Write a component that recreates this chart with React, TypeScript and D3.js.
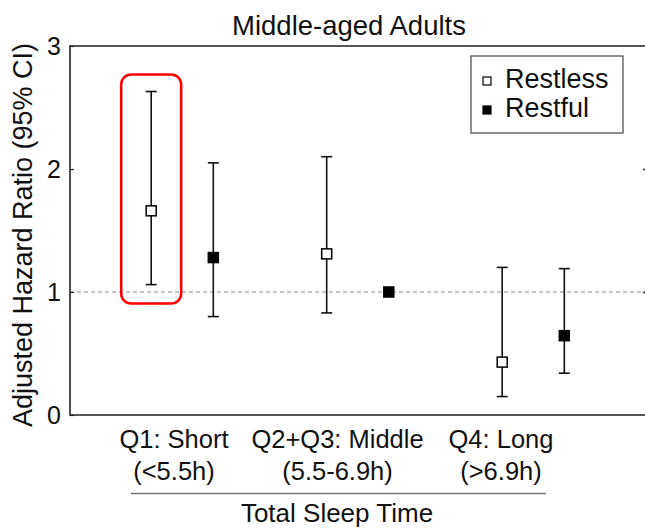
import React, { useEffect, useRef } from "react";
import * as d3 from "d3";

// values
const groups = ["Q1", "Q2+Q3", "Q4"];
const groupLines1 = ["Q1: Short", "Q2+Q3: Middle", "Q4: Long"];
const groupLines2 = ["(<5.5h)", "(5.5-6.9h)", "(>6.9h)"];
const seriesNames = ["Restless", "Restful"];
const restlessHR = [1.66, 1.31, 0.43];
const restlessLo = [1.06, 0.83, 0.15];
const restlessHi = [2.63, 2.1, 1.2];
const restfulHR = [1.28, 1.0, 0.645];
const restfulLo = [0.8, null, 0.34];
const restfulHi = [2.05, null, 1.19];
const yTicks = [0, 1, 2, 3];

const W = 645;
const H = 528;
const FONT = "'Liberation Sans', Arial, sans-serif";

let App = () => {
  const ref = useRef<SVGSVGElement>(null);

  useEffect(() => {
    document.documentElement.style.overflow = "hidden";
    document.body.style.margin = "0";

    let svg = d3.select(ref.current);
    svg.selectAll("*").remove();

    const left = 70;
    const right = 652; // right frame edge sits just past the picture
    const top = 46;
    const bottom = 415;

    let y = d3.scaleLinear().domain([0, 3]).range([bottom, top]);
    let x = d3.scaleLinear().domain([0.5, 3.5]).range([94.5, 621]);
    const off = 0.177;
    let labelX = d3.scalePoint().domain(groups).range([174, 501]);

    let points: any[] = [];
    groups.forEach((g, i) => {
      points.push({ s: 0, pos: i + 1 - off, hr: restlessHR[i], lo: restlessLo[i], hi: restlessHi[i] });
      points.push({ s: 1, pos: i + 1 + off, hr: restfulHR[i], lo: restfulLo[i], hi: restfulHi[i] });
    });

    // reference line at HR = 1
    svg
      .append("line")
      .attr("x1", left)
      .attr("x2", W)
      .attr("y1", y(1))
      .attr("y2", y(1))
      .attr("stroke", "#888")
      .attr("stroke-width", 1.2)
      .attr("stroke-dasharray", "4,3");

    // frame (top, left, bottom)
    svg
      .append("path")
      .attr("d", `M${W},${top}H${left}V${bottom}H${W}`)
      .attr("fill", "none")
      .attr("stroke", "#222")
      .attr("stroke-width", 1.6);

    // y axis, ticks inward
    let yAxis = d3.axisRight(y).tickValues(yTicks).tickSize(4).tickFormat(() => "");
    let gY = svg.append("g").attr("transform", "translate(" + left + ",0)").call(yAxis);
    gY.select(".domain").remove();
    gY.selectAll("line").attr("stroke", "#222").attr("stroke-width", 1.2);

    let yAxisR = d3.axisLeft(y).tickValues([1, 2]).tickSize(9).tickFormat(() => "");
    let gYR = svg.append("g").attr("transform", "translate(" + right + ",0)").call(yAxisR);
    gYR.select(".domain").remove();
    gYR.selectAll("line").attr("stroke", "#222").attr("stroke-width", 1.4);

    svg
      .append("g")
      .selectAll("text")
      .data(yTicks)
      .enter()
      .append("text")
      .attr("x", left - 9)
      .attr("y", (d) => y(d) + 9)
      .attr("text-anchor", "end")
      .attr("font-family", FONT)
      .attr("font-size", 25)
      .attr("fill", "#111")
      .text((d) => d);

    // y title
    svg
      .append("text")
      .attr("transform", "translate(32," + 235 + ") rotate(-90)")
      .attr("text-anchor", "middle")
      .attr("font-family", FONT)
      .attr("font-size", 27)
      .attr("fill", "#111")
      .text("Adjusted Hazard Ratio (95% CI)");

    // title
    svg
      .append("text")
      .attr("x", 349)
      .attr("y", 35)
      .attr("text-anchor", "middle")
      .attr("font-family", FONT)
      .attr("font-size", 27.5)
      .attr("fill", "#111")
      .text("Middle-aged Adults");

    // error bars
    let ci = points.filter((d) => d.lo !== null);
    let gE = svg.append("g").attr("stroke", "#111").attr("stroke-width", 1.6);
    gE.selectAll("line.v")
      .data(ci)
      .enter()
      .append("line")
      .attr("x1", (d) => x(d.pos))
      .attr("x2", (d) => x(d.pos))
      .attr("y1", (d) => y(d.lo))
      .attr("y2", (d) => y(d.hi));
    ["lo", "hi"].forEach((k) => {
      gE.selectAll("line.c" + k)
        .data(ci)
        .enter()
        .append("line")
        .attr("x1", (d) => x(d.pos) - 5.5)
        .attr("x2", (d) => x(d.pos) + 5.5)
        .attr("y1", (d) => y(d[k]))
        .attr("y2", (d) => y(d[k]));
    });

    // markers
    const ms = 10;
    svg
      .append("g")
      .selectAll("rect")
      .data(points)
      .enter()
      .append("rect")
      .attr("x", (d) => x(d.pos) - ms / 2)
      .attr("y", (d) => y(d.hr) - ms / 2)
      .attr("width", ms)
      .attr("height", ms)
      .attr("fill", (d) => (d.s === 0 ? "#fff" : "#000"))
      .attr("stroke", "#000")
      .attr("stroke-width", 1.5);

    // red highlight around Q1 restless
    let hl = points[0];
    svg
      .append("rect")
      .attr("x", x(hl.pos) - 30)
      .attr("y", y(hl.hi) - 17)
      .attr("width", 60)
      .attr("height", y(hl.lo) - y(hl.hi) + 36)
      .attr("rx", 10)
      .attr("fill", "none")
      .attr("stroke", "#f00")
      .attr("stroke-width", 2.5);

    // legend
    let lg = svg.append("g").attr("transform", "translate(471,56)");
    lg.append("rect")
      .attr("width", 152)
      .attr("height", 77)
      .attr("fill", "#fff")
      .attr("stroke", "#555")
      .attr("stroke-width", 1.3);
    seriesNames.forEach((name, i) => {
      lg.append("rect")
        .attr("x", 12)
        .attr("y", 21 + i * 29)
        .attr("width", 8)
        .attr("height", 8)
        .attr("fill", i === 0 ? "#fff" : "#000")
        .attr("stroke", "#000")
        .attr("stroke-width", 1.2);
      lg.append("text")
        .attr("x", 34)
        .attr("y", 32 + i * 29)
        .attr("font-family", FONT)
        .attr("font-size", 27)
        .attr("fill", "#111")
        .text(name);
    });

    // category labels
    let gL = svg.append("g").attr("font-family", FONT).attr("fill", "#111").attr("text-anchor", "middle");
    groups.forEach((g, i) => {
      gL.append("text")
        .attr("x", labelX(g))
        .attr("y", 448)
        .attr("font-size", 25.5)
        .text(groupLines1[i]);
      gL.append("text")
        .attr("x", labelX(g))
        .attr("y", 480)
        .attr("font-size", 25.5)
        .text(groupLines2[i]);
    });

    svg
      .append("line")
      .attr("x1", 131)
      .attr("x2", 546)
      .attr("y1", 493.5)
      .attr("y2", 493.5)
      .attr("stroke", "#777")
      .attr("stroke-width", 1.3);

    svg
      .append("text")
      .attr("x", 337)
      .attr("y", 522)
      .attr("text-anchor", "middle")
      .attr("font-family", FONT)
      .attr("font-size", 26)
      .attr("fill", "#111")
      .text("Total Sleep Time");
  }, []);

  return (
    <svg
      ref={ref}
      width={W}
      height={H}
      style={{ position: "absolute", left: 0, top: 0, background: "#fff", display: "block" }}
    />
  );
};

export default App;
